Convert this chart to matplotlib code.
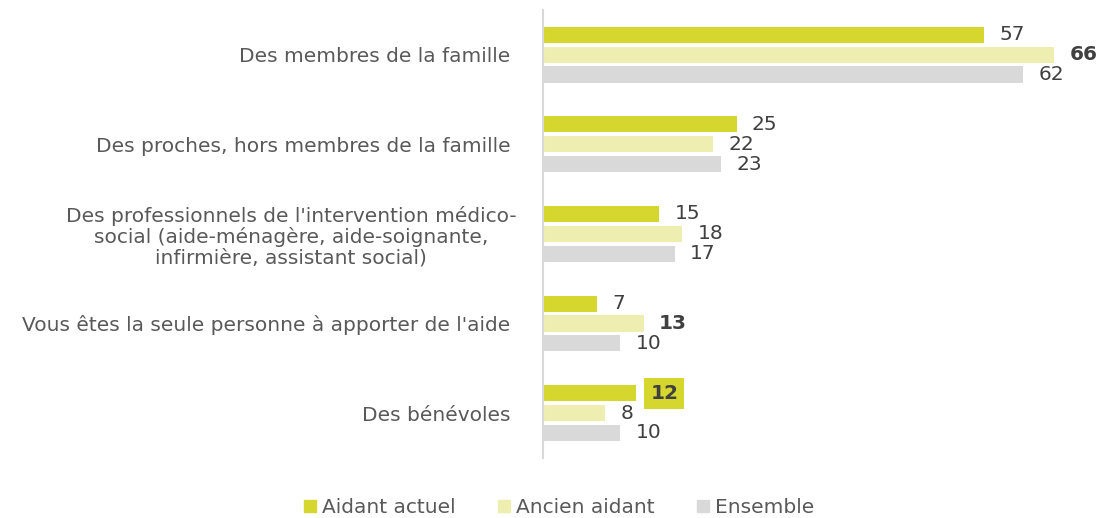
import matplotlib.pyplot as plt
import numpy as np

categories = [
    "Des membres de la famille ",
    "Des proches, hors membres de la famille ",
    "Des professionnels de l'intervention médico-\nsocial (aide-ménagère, aide-soignante,\ninfirmière, assistant social)",
    "Vous êtes la seule personne à apporter de l'aide ",
    "Des bénévoles ",
]
aidant_actuel = [57, 25, 15, 7, 12]
ancien_aidant = [66, 22, 18, 13, 8]
ensemble = [62, 23, 17, 10, 10]
series_names = ["Aidant actuel", "Ancien aidant", "Ensemble"]
colors = ["#d5d72f", "#eeeeb0", "#d9d9d9"]
# which labels are highlighted (series index, category index)
bold_labels = [(1, 0), (1, 3), (0, 4)]
boxed_labels = [(0, 4)]

txt = "#595959"
num = "#404040"
plt.rcParams['font.family'] = ['DejaVu Sans']
fs = 14.5

fig = plt.figure(figsize=(10.99, 5.18), dpi=100)
ax = fig.add_axes([0.494, 0.116, 0.506, 0.865])

y = np.arange(len(categories))
off = 0.222
h = 0.18
all_series = [aidant_actuel, ancien_aidant, ensemble]
for i, vals in enumerate(all_series):
    ypos = y + (i - 1) * off
    ax.barh(ypos, vals, height=h, color=colors[i], label=series_names[i])
    for j, v in enumerate(vals):
        bold = (i, j) in bold_labels
        kw = dict(va='center', ha='left', fontsize=fs, color=num,
                  fontweight='bold' if bold else 'normal')
        if (i, j) in boxed_labels:
            kw['bbox'] = dict(boxstyle='square,pad=0.3', fc=colors[0], ec='none')
            ax.annotate(str(v), (v, ypos[j]), xytext=(10.5, 0), textcoords='offset points', **kw)
        else:
            ax.annotate(str(v), (v, ypos[j]), xytext=(11, 0), textcoords='offset points', **kw)

ax.set_xlim(0, 71.8)
ax.set_ylim(4.5, -0.5)
ax.set_xticks([])
ax.set_yticks(y)
ax.set_yticklabels(categories, fontsize=fs, color=txt, multialignment='center', linespacing=1.1)
ax.tick_params(axis='y', length=0, pad=19)
for s in ['top', 'right', 'bottom']:
    ax.spines[s].set_visible(False)
ax.spines['left'].set_color('#d9d9d9')
ax.spines['left'].set_linewidth(1.5)

handles = [plt.Line2D([], [], marker='s', ls='none', markersize=9, color=c) for c in colors]
leg = fig.legend(handles, series_names, loc='center', bbox_to_anchor=(0.507, 0.021),
                 ncol=3, frameon=False, fontsize=fs, handletextpad=0.1, columnspacing=1.9,
                 handlelength=1.0)
for t in leg.get_texts():
    t.set_color(txt)

fig.savefig("out.png", dpi=100)
